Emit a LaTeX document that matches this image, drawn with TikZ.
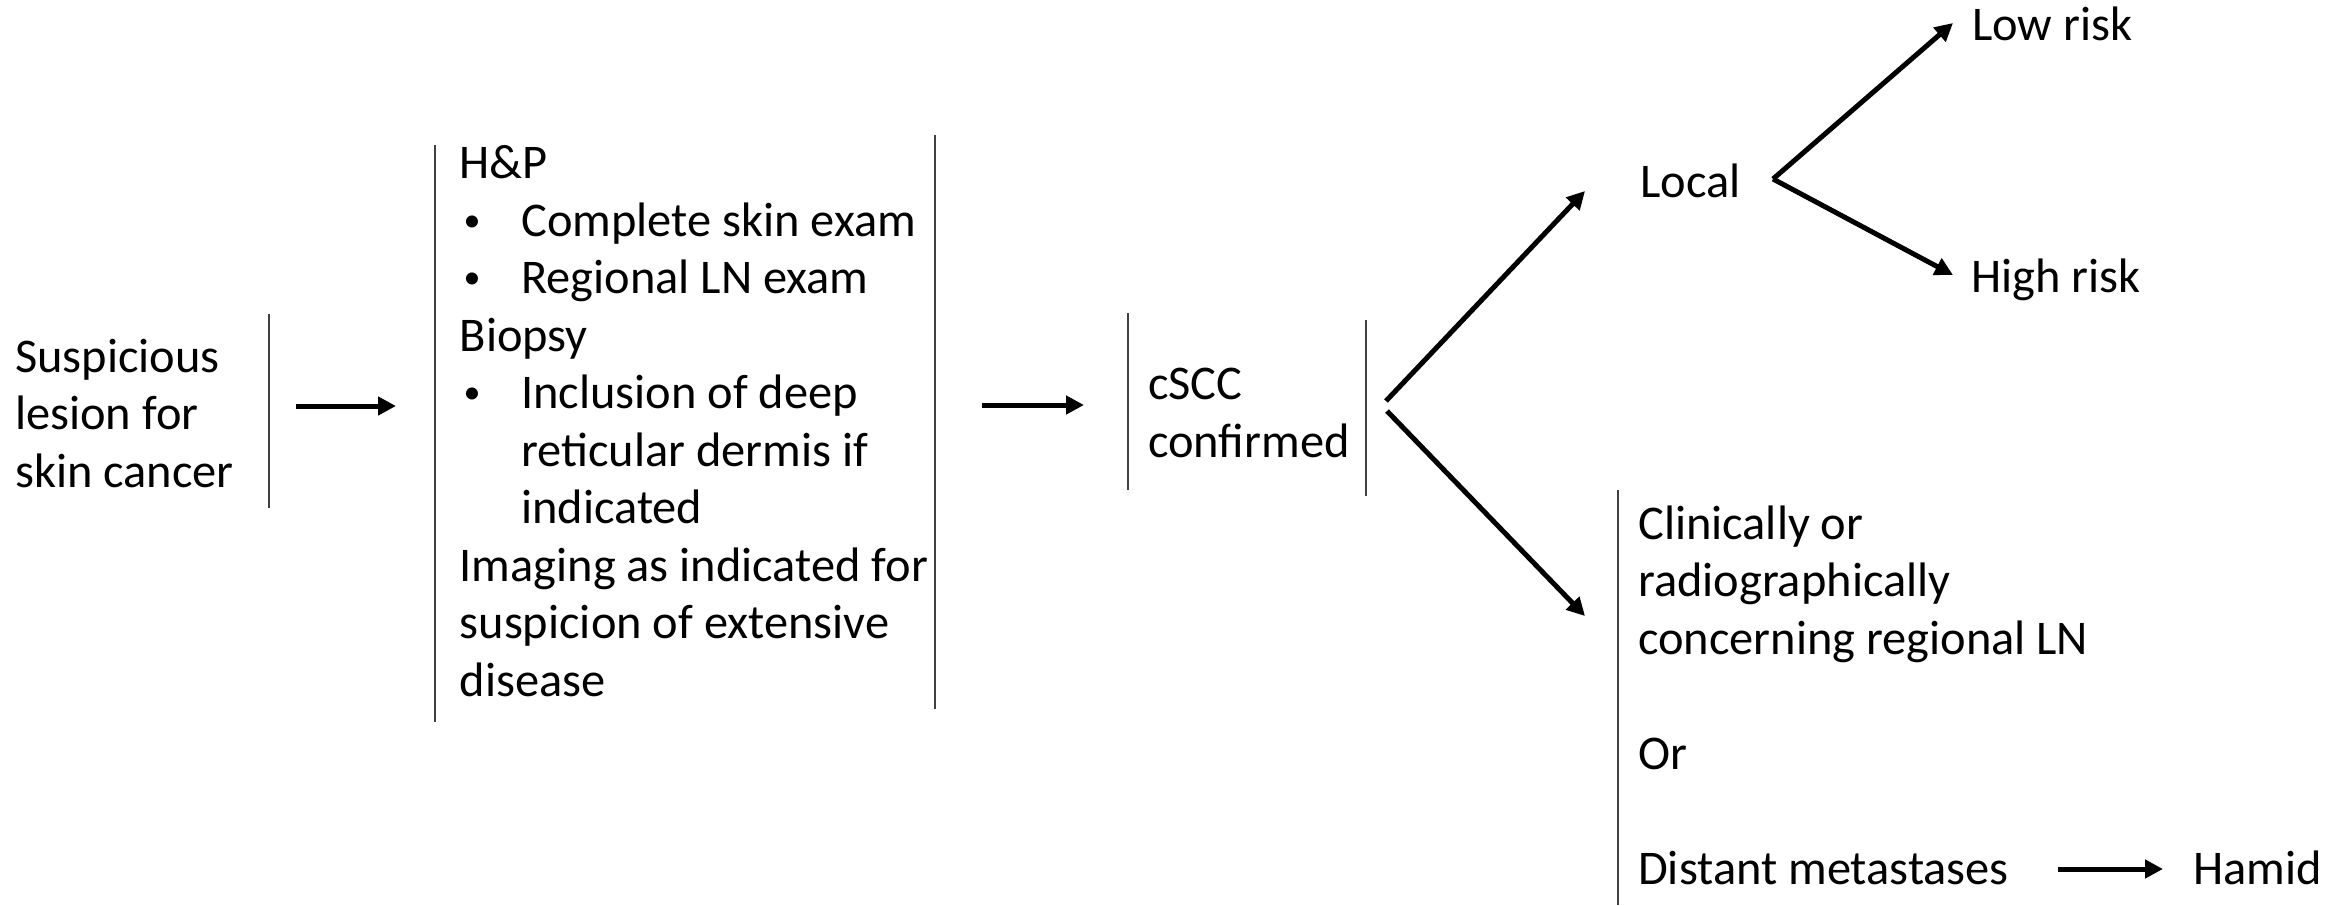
\documentclass[tikz,border=0pt]{standalone}
\usepackage{fontspec}
\setmainfont{Carlito}
\usetikzlibrary{arrows.meta}
\begin{document}
\begin{tikzpicture}[x=1pt,y=-1pt,
  txt/.style={anchor=base west,inner sep=0pt,align=left,
    font=\fontsize{48.4}{57.5}\selectfont},
  bar/.style={line width=1.3pt,draw=black!75},
  arr/.style={line width=5pt,-{Triangle[length=18pt,width=18pt]}},
]
\useasboundingbox (0,0) rectangle (2345,905);
\newcommand{\bul}{\makebox[61.5pt][l]{\hspace*{4pt}\raisebox{5pt}{\fontsize{34}{34}\selectfont•}}}
\newcommand{\ind}{\hspace*{61.5pt}}
% texts (anchored at the baseline of their last line)
\node[txt] (susp) at (15,487) {Suspicious\\lesion for\\skin cancer};
\node[txt] (work) at (459.5,696) {H\&P\\\bul Complete skin exam\\\bul Regional LN exam\\Biopsy\\\bul Inclusion of deep\\\ind reticular dermis if\\\ind indicated\\Imaging as indicated for\\suspicion of extensive\\disease};
\node[txt] (cscc) at (1148,457) {cSCC\\confirmed};
\node[txt] (local) at (1640,197) {Local};
\node[txt] (low) at (1972,40) {Low risk};
\node[txt] (high) at (1971,292) {High risk};
\node[txt] (adv) at (1638,884) {Clinically or\\radiographically\\concerning regional LN\\[57.5pt]Or\\[57.5pt]Distant metastases};
\node[txt] (hamid) at (2193,884) {Hamid};
% bracket bars
\draw[bar] (269,314) -- (269,508);
\draw[bar] (435,145) -- (435,722);
\draw[bar] (935,135) -- (935,709);
\draw[bar] (1128,313) -- (1128,490);
\draw[bar] (1366,320) -- (1366,496);
\draw[bar] (1618,490) -- (1618,905);
% connector end points
\coordinate (a1s) at (296,406);  \coordinate (a1e) at (396,406);
\coordinate (a2s) at (982,405);  \coordinate (a2e) at (1084,405);
\coordinate (ups) at (1386,401); \coordinate (upe) at (1585,191);
\coordinate (dns) at (1387,411); \coordinate (dne) at (1585,616);
\coordinate (lv)  at (1773,179);
\coordinate (lowe) at (1953,23); \coordinate (highe) at (1953,275);
\coordinate (a3s) at (2058,869); \coordinate (a3e) at (2163,869);
% connectors
\draw[arr] (a1s) -- (a1e);
\draw[arr] (a2s) -- (a2e);
\draw[arr] (ups) -- (upe);
\draw[arr] (dns) -- (dne);
\draw[arr] (lv) -- (lowe);
\draw[arr] (lv) -- (highe);
\draw[arr] (a3s) -- (a3e);
\end{tikzpicture}
\end{document}
